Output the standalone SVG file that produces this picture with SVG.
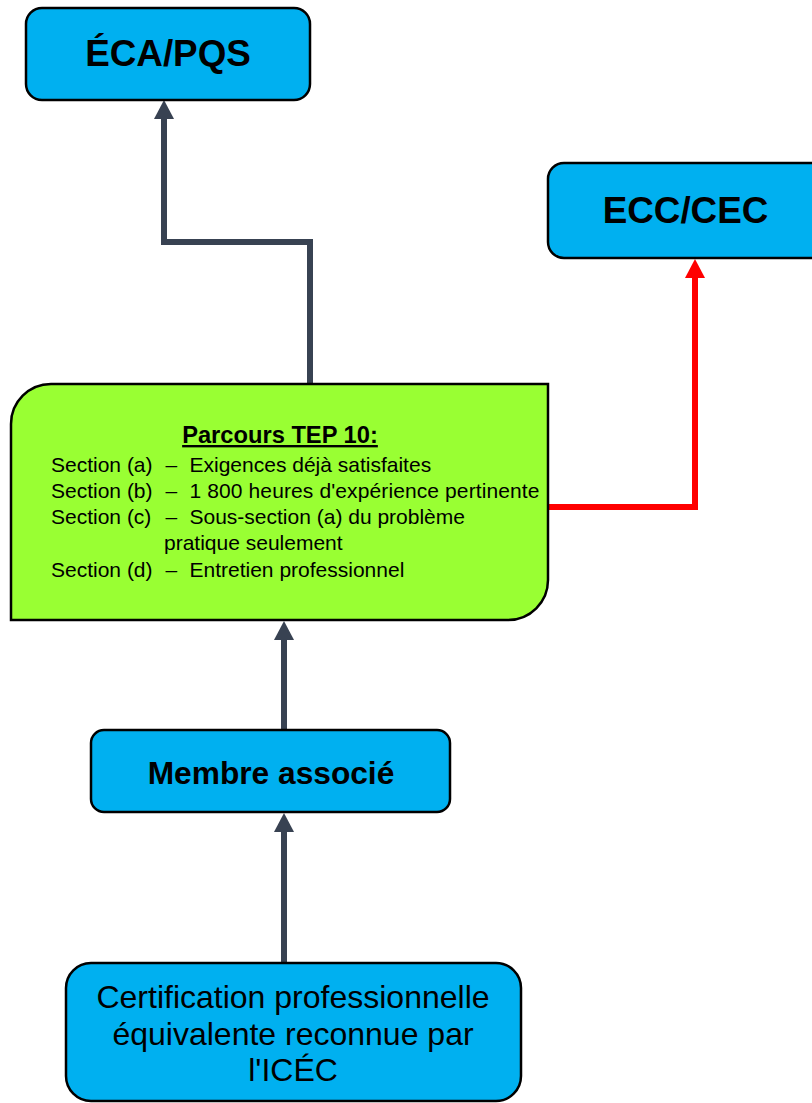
<svg xmlns="http://www.w3.org/2000/svg" width="812" height="1103" viewBox="0 0 812 1103">
<style>
.box{fill:#00B0F0;stroke:#000;stroke-width:2.5}
.green{fill:#99FF33;stroke:#000;stroke-width:2.5}
.big{font-family:"Liberation Sans",Arial,sans-serif;font-weight:bold;font-size:36.8px;fill:#000;text-anchor:middle}
.mid{font-family:"Liberation Sans",Arial,sans-serif;font-weight:bold;font-size:31.7px;fill:#000;text-anchor:middle}
.reg{font-family:"Liberation Sans",Arial,sans-serif;font-size:32px;fill:#000;text-anchor:middle}
.sec{font-family:"Liberation Sans",Arial,sans-serif;font-size:21px;fill:#000}
.ttl{font-family:"Liberation Sans",Arial,sans-serif;font-weight:bold;font-size:23.7px;fill:#000;text-anchor:middle;text-decoration:underline}
.dark{fill:none;stroke:#384252;stroke-width:6;stroke-linejoin:miter}
.red{fill:none;stroke:#FF0000;stroke-width:6;stroke-linejoin:miter}
</style>
<defs>
<marker id="ad" viewBox="0 0 19 20" refX="0" refY="10" markerWidth="19" markerHeight="20" markerUnits="userSpaceOnUse" orient="auto">
<path d="M0,0 L19,10 L0,20 Z" fill="#384252"/>
</marker>
<marker id="ar" viewBox="0 0 19 20" refX="0" refY="10" markerWidth="19" markerHeight="20" markerUnits="userSpaceOnUse" orient="auto">
<path d="M0,0 L19,10 L0,20 Z" fill="#FF0000"/>
</marker>
</defs>
<g id="connectors">
<path class="dark" d="M310,384 V242 H164 V119" marker-end="url(#ad)"/>
<path class="red" d="M546,507 H695 V278" marker-end="url(#ar)"/>
<path class="dark" d="M284,730 V640" marker-end="url(#ad)"/>
<path class="dark" d="M284,963 V832" marker-end="url(#ad)"/>
</g>
<g id="eca">
<rect class="box" x="26" y="8" width="284" height="92" rx="16"/>
<text class="big" x="168" y="66">ÉCA/PQS</text>
</g>
<g id="ecc">
<rect class="box" x="548" y="163" width="280" height="95" rx="16"/>
<text class="big" x="685.5" y="223">ECC/CEC</text>
</g>
<g id="parcours">
<path class="green" d="M11,424 A40,40 0 0 1 51,384 H548 V580 A40,40 0 0 1 508,620 H11 Z"/>
<text class="ttl" x="280" y="443">Parcours TEP 10:</text>
<text class="sec" y="471.5"><tspan x="51">Section (a)</tspan><tspan x="165.5">–</tspan><tspan x="189.5">Exigences déjà satisfaites</tspan></text>
<text class="sec" y="497.8"><tspan x="51">Section (b)</tspan><tspan x="165.5">–</tspan><tspan x="189.5" textLength="350">1 800 heures d'expérience pertinente</tspan></text>
<text class="sec" y="524.1"><tspan x="51">Section (c)</tspan><tspan x="165.5">–</tspan><tspan x="189.5">Sous-section (a) du problème</tspan></text>
<text class="sec" x="164" y="550.4">pratique seulement</text>
<text class="sec" y="576.7"><tspan x="51">Section (d)</tspan><tspan x="165.5">–</tspan><tspan x="189.5">Entretien professionnel</tspan></text>
</g>
<g id="membre">
<rect class="box" x="91" y="730" width="359" height="82" rx="13"/>
<text class="mid" x="271" y="784">Membre associé</text>
</g>
<g id="certification">
<rect class="box" x="66" y="963" width="455" height="138" rx="25"/>
<text class="reg" x="293" y="1008">Certification professionnelle</text>
<text class="reg" x="293" y="1045">équivalente reconnue par</text>
<text class="reg" x="293" y="1081">l'ICÉC</text>
</g>
</svg>
